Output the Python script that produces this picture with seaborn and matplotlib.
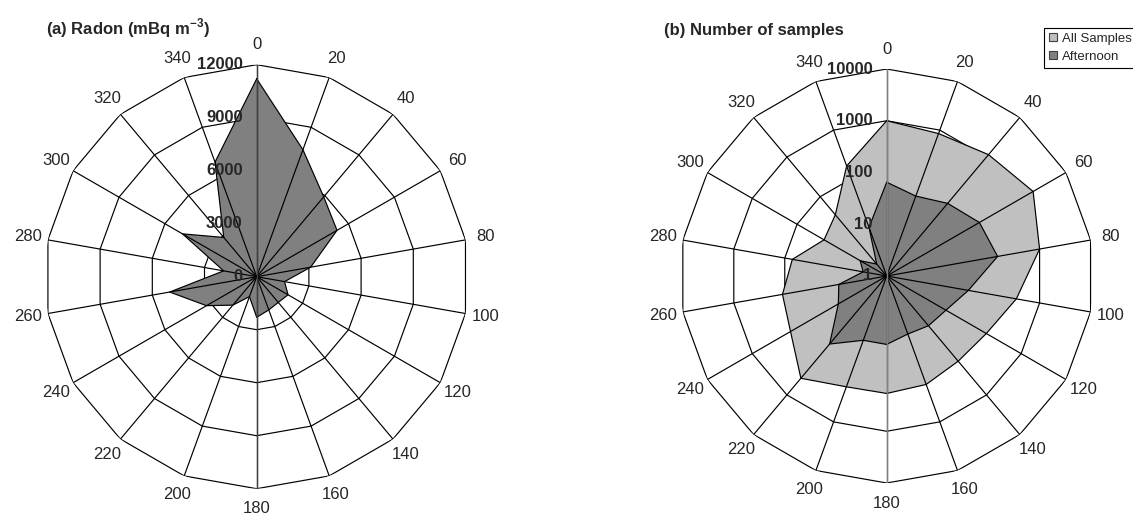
import numpy as np
import pandas as pd
import matplotlib
matplotlib.use("Agg")
import matplotlib.pyplot as plt
from matplotlib.lines import Line2D
import seaborn as sns

# Wind direction sectors (degrees)
directions = list(range(0, 360, 20))

# (a) mean radon concentration per sector (mBq m-3)
radon = [11200, 7650, 5900, 5250, 3100, 1600, 2050, 1900, 2000,
         2300, 1200, 2100, 3280, 5000, 1900, 4850, 2900, 6900]

# (b) number of samples per sector
all_samples = [1000, 850, 1150, 1850, 1000, 350, 167, 141, 170,
               186, 190, 380, 140, 111, 71, 25, 35, 183]
afternoon = [65, 44, 68, 117, 150, 40, 21, 18, 15.6,
             21, 21, 52, 12, 8.7, 2.9, 3.9, 2, 10]

radon_ticks = [0, 3000, 6000, 9000, 12000]
count_ticks = [1, 10, 100, 1000, 10000]
series_names = ["All Samples", "Afternoon"]

sns.set_theme(style="white")
plt.rcParams["font.family"] = ["Liberation Sans", "DejaVu Sans"]
plt.rcParams["mathtext.fontset"] = "custom"
plt.rcParams["mathtext.rm"] = "Liberation Sans"
plt.rcParams["mathtext.bf"] = "Liberation Sans:bold"

W, H = 1133, 516
fig = plt.figure(figsize=(W / 100, H / 100), dpi=100)
fig.patch.set_facecolor("white")

theta = np.deg2rad(directions)
closed_theta = np.append(theta, theta[0])

LABEL_SIZE = 12


def close(vals):
    vals = list(vals)
    return vals + vals[:1]


def radar_axes(cx, cy, radius_px, rmax, ring_values, ring_labels):
    rect = [(cx - radius_px) / W, (H - cy - radius_px) / H,
            2 * radius_px / W, 2 * radius_px / H]
    ax = fig.add_axes(rect, projection="polar")
    ax.set_theta_zero_location("N")
    ax.set_theta_direction(-1)
    ax.set_ylim(0, rmax)
    ax.grid(False)
    ax.set_xticks([])
    ax.set_yticks([])
    ax.spines["polar"].set_visible(False)
    ax.patch.set_alpha(0)
    # polygonal rings
    for rv in ring_values:
        if rv > 0:
            ax.plot(closed_theta, [rv] * len(closed_theta),
                    color="black", lw=0.85, zorder=1)
    # direction labels outside the outer ring
    r_lab = rmax * (1 + 20 / radius_px)
    for t, d in zip(theta, directions):
        ax.text(t, r_lab, str(d), ha="center", va="center",
                fontsize=LABEL_SIZE, clip_on=False)
    # ring value labels along the north spoke
    for rv, lab in zip(ring_values, ring_labels):
        ax.annotate(lab, xy=(0, rv), xytext=(-14, 0),
                    textcoords="offset pixels", ha="right", va="center",
                    fontsize=LABEL_SIZE, fontweight="bold", zorder=6,
                    annotation_clip=False)
    return ax


def draw_spokes(ax, rmax, axis_color):
    for t in theta:
        ax.plot([t, t], [0, rmax], color="black", lw=0.85, zorder=4)
    ax.plot([0, 0], [0, rmax], color=axis_color, lw=1.0, zorder=4)
    ax.plot([np.pi, np.pi], [0, rmax], color=axis_color, lw=1.0, zorder=4)


def outline(ax, vals):
    df = pd.DataFrame({"theta": closed_theta, "r": close(vals)})
    sns.lineplot(data=df, x="theta", y="r", sort=False, estimator=None,
                 color="black", lw=0.85, ax=ax, zorder=3)
    ax.set_xlabel("")
    ax.set_ylabel("")


# ---- (a) Radon ----
ax1 = radar_axes(256.7, 276.7, 212, 12000, radon_ticks,
                 [str(v) for v in radon_ticks])
ax1.fill(closed_theta, close(radon), facecolor="#808080",
         edgecolor="none", zorder=2)
outline(ax1, radon)
draw_spokes(ax1, 12000, "#404040")
ax1.set_ylim(0, 12000)

# ---- (b) Number of samples (log scale) ----
log_ticks = np.log10(count_ticks)
ax2 = radar_axes(886.7, 276.0, 207, log_ticks[-1], log_ticks,
                 [str(v) for v in count_ticks])
ax2.fill(closed_theta, close(np.log10(all_samples)), facecolor="#C0C0C0",
         edgecolor="none", zorder=2)
outline(ax2, np.log10(all_samples))
ax2.fill(closed_theta, close(np.log10(afternoon)), facecolor="#808080",
         edgecolor="none", zorder=2.5)
outline(ax2, np.log10(afternoon))
draw_spokes(ax2, log_ticks[-1], "#808080")
ax2.set_ylim(0, log_ticks[-1])

# titles
fig.text(46 / W, 1 - 28 / H, r"(a) Radon (mBq m$^{\mathbf{-3}}$)",
         ha="left", va="center", fontsize=12, fontweight="bold")
fig.text(664 / W, 1 - 30 / H, "(b) Number of samples",
         ha="left", va="center", fontsize=12, fontweight="bold")

# legend
handles = [
    Line2D([], [], ls="none", marker="s", markersize=6,
           markerfacecolor="#C0C0C0", markeredgecolor="#404040",
           markeredgewidth=0.8),
    Line2D([], [], ls="none", marker="s", markersize=6,
           markerfacecolor="#808080", markeredgecolor="#404040",
           markeredgewidth=0.8),
]
leg = fig.legend(handles, series_names, loc="upper left",
                 bbox_to_anchor=(1044 / W, 1 - 28 / H), frameon=True,
                 fancybox=False, shadow=False, framealpha=1,
                 edgecolor="black", fontsize=9.5, handlelength=0.7,
                 handletextpad=0.3, borderpad=0.35, labelspacing=0.45,
                 borderaxespad=0)
leg.get_frame().set_linewidth(0.8)

fig.savefig("out.png", dpi=100, facecolor="white")
